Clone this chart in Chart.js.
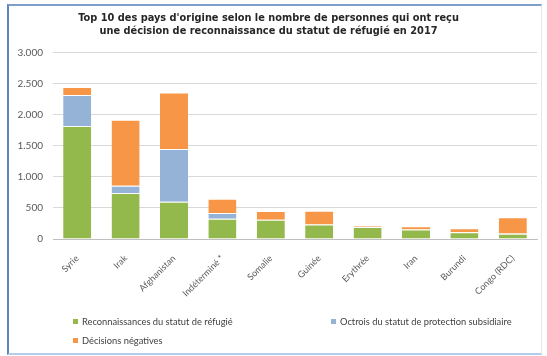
<!DOCTYPE html>
<html>
<head>
<meta charset="utf-8">
<script src="https://cdn.jsdelivr.net/npm/chart.js@4/dist/chart.umd.min.js"></script>
<style>
    html, body { margin: 0; padding: 0; background: #ffffff; }
    body { width: 547px; height: 356px; position: relative; overflow: hidden; }
    #frame {
        position: absolute; left: 7px; top: 4px; width: 532px; height: 347px;
        border-left: 2px solid #5b86c0; border-top: 2px solid #7f9fcb;
        border-right: 1px solid #e4e8ee; border-bottom: 2px solid #b5cdea;
        pointer-events: none;
    }
    #wrap { position: absolute; left: 0; top: 0; width: 547px; height: 356px; }
    #legend {
        position: absolute; left: 73px; top: 314px; width: 460px;
        font-family: Lato, sans-serif; font-size: 9.3px; color: #404040;
    }
    .item { position: absolute; white-space: nowrap; line-height: 16px; }
    .item i { display: inline-block; width: 5px; height: 5px; margin-right: 4px; vertical-align: 1px; }
</style>
</head>
<body>
<div id="wrap"><canvas id="chart" width="547" height="356"></canvas></div>
<div id="frame"></div>
<div id="legend"></div>
<script>
// Data
const countries = ['Syrie', 'Irak', 'Afghanistan', 'Indéterminé *', 'Somalie', 'Guinée', 'Erythrée', 'Iran', 'Burundi', 'Congo (RDC)'];
const reconnaissances = [1820, 740, 600, 325, 310, 235, 195, 155, 110, 85];
const octrois = [500, 120, 850, 95, 0, 0, 0, 0, 0, 5];
const negatives = [130, 1060, 910, 230, 140, 220, 15, 50, 65, 260];
const seriesNames = ['Reconnaissances du statut de réfugié', 'Octrois du statut de protection subsidiaire', 'Décisions négatives'];
const yTicks = [0, 500, 1000, 1500, 2000, 2500, 3000];

const COLORS = {
    green: '#93b84c',
    blue: '#95b3d7',
    orange: '#f79646',
    grid: '#d9d9d9',
    text: '#595959'
};

// thousands separator as a dot
const fmt = v => String(v).replace(/\B(?=(\d{3})+(?!\d))/g, '.');

const seg = (label, data, color) => ({
    label, data,
    backgroundColor: color,
    borderColor: '#ffffff',
    borderWidth: { top: 1 },
    borderSkipped: 'start',
    barPercentage: 0.58,
    categoryPercentage: 1
});

new Chart(document.getElementById('chart'), {
    type: 'bar',
    data: {
        labels: countries,
        datasets: [
            seg(seriesNames[0], reconnaissances, COLORS.green),
            seg(seriesNames[1], octrois, COLORS.blue),
            seg(seriesNames[2], negatives, COLORS.orange)
        ]
    },
    options: {
        responsive: false,
        animation: false,
        layout: { padding: { left: 0, right: 10, top: 0, bottom: 0 } },
        plugins: {
            legend: { display: false },
            tooltip: { enabled: false },
            title: {
                display: true,
                text: ['Top 10 des pays d\'origine selon le nombre de personnes qui ont reçu',
                       'une décision de reconnaissance du statut de réfugié en 2017'],
                color: '#262626',
                font: { family: "'DejaVu Sans', sans-serif", size: 9.8, weight: 'bold', lineHeight: 1.42 },
                padding: { top: 11, bottom: 14 }
            }
        },
        scales: {
            x: {
                stacked: true,
                grid: { display: false },
                border: { color: '#bfbfbf' },
                ticks: {
                    color: COLORS.text,
                    font: { family: 'Lato, sans-serif', size: 9 },
                    minRotation: 45,
                    maxRotation: 45,
                    padding: 6
                },
                afterFit: s => { s.height = 117; }
            },
            y: {
                stacked: true,
                min: 0,
                max: 3000,
                afterBuildTicks: s => { s.ticks = yTicks.map(v => ({ value: v })); },
                grid: { color: COLORS.grid, drawTicks: false },
                border: { display: false },
                ticks: {
                    color: COLORS.text,
                    font: { family: 'Lato, sans-serif', size: 10 },
                    padding: 10,
                    callback: v => fmt(v)
                },
                afterFit: s => { s.width = 53; }
            }
        }
    }
});

// Legend laid out like the Excel one (two columns)
const legendColors = [COLORS.green, COLORS.blue, COLORS.orange];
const legendPos = [[0, 0], [258, 0], [0, 19]];
const legend = document.getElementById('legend');
seriesNames.forEach((name, i) => {
    const el = document.createElement('div');
    el.className = 'item';
    el.style.left = legendPos[i][0] + 'px';
    el.style.top = legendPos[i][1] + 'px';
    el.innerHTML = '<i style="background:' + legendColors[i] + '"></i>' + name;
    legend.appendChild(el);
});
</script>
</body>
</html>
